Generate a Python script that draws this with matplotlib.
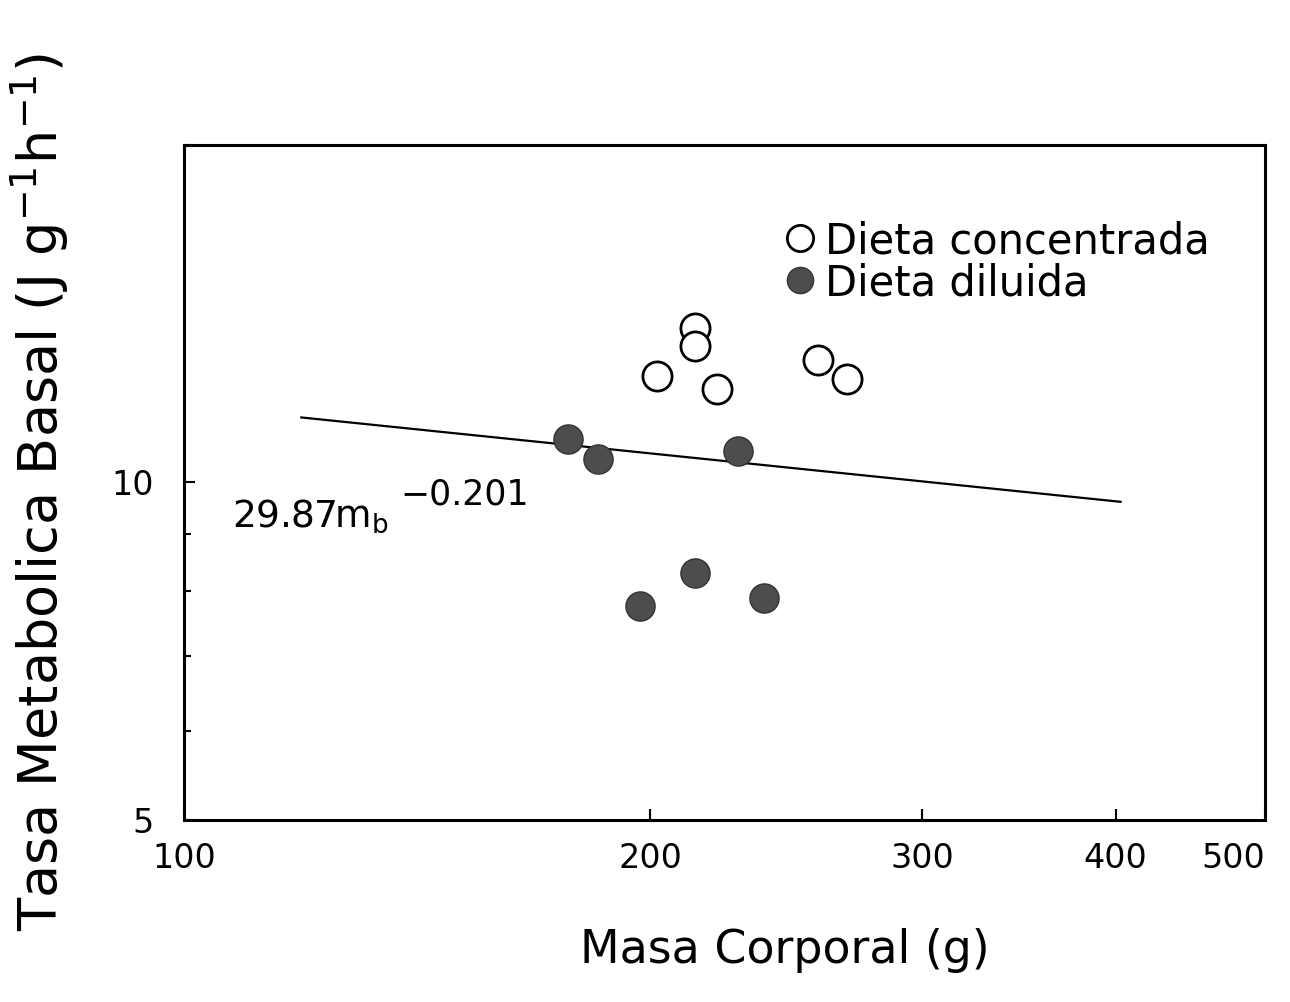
import matplotlib.pyplot as plt

# Dieta concentrada (circulos abiertos)
masa_conc = [202, 214, 214, 221, 257, 268]
tmb_conc = [12.45, 13.74, 13.23, 12.12, 12.85, 12.38]

# Dieta diluida (circulos llenos)
masa_dil = [177, 185, 197, 214, 228, 237]
tmb_dil = [10.93, 10.49, 7.76, 8.31, 10.66, 7.88]

# recta de regresion (extremos)
masa_fit = [119, 403]
tmb_fit = [11.43, 9.61]

xticks = [100, 200, 300, 400, 500]
yticks = [5, 10]
yminor = [6, 7, 8, 9, 20]

fig = plt.figure(figsize=(12.9, 10.02), dpi=100)
ax = fig.add_axes([0.143, 0.182, 0.838, 0.673])

ax.plot(masa_fit, tmb_fit, color='black', lw=1.6)
ax.plot(masa_conc, tmb_conc, 'o', ms=21, mfc='white', mec='black', mew=2,
        ls='none', label='Dieta concentrada')
ax.plot(masa_dil, tmb_dil, 'o', ms=21, mfc='#4d4d4d', mec='#333333', mew=1,
        ls='none', label='Dieta diluida')

ax.set_xscale('log')
ax.set_yscale('log')
ax.set_xlim(100, 500)
ax.set_ylim(5, 20)

ax.set_xticks(xticks)
ax.set_xticklabels([str(t) for t in xticks])
ax.set_xticks([], minor=True)
ax.set_yticks(yticks)
ax.set_yticklabels([str(t) for t in yticks])
ax.set_yticks(yminor, minor=True)
ax.set_yticklabels([], minor=True)
ax.tick_params(axis='both', which='both', direction='in', labelsize=24,
               top=False, right=False, width=1.5)
ax.tick_params(axis='both', which='major', length=8)
ax.tick_params(axis='y', which='minor', length=5)
ax.tick_params(axis='x', pad=16)
ax.tick_params(axis='y', pad=22)
ax.get_xticklabels()[-1].set_horizontalalignment('right')

for s in ax.spines.values():
    s.set_linewidth(2.2)

ax.set_xlabel('Masa Corporal (g)', fontsize=33)
ax.xaxis.set_label_coords(0.555, -0.16)
ax.set_ylabel('Tasa Metabolica Basal (J g$^{-1}$h$^{-1}$)', fontsize=39)
ax.yaxis.set_label_coords(-0.105, 0.485)

ax.text(0.044, 0.434, r'29.87m$_\mathregular{b}$', fontsize=27,
        transform=ax.transAxes, ha='left', va='baseline')
ax.text(0.2, 0.467, '\u22120.201', fontsize=25,
        transform=ax.transAxes, ha='left', va='baseline')

ax.legend(loc='upper left', bbox_to_anchor=(0.527, 0.92), frameon=False,
          fontsize=30, handletextpad=0.0, labelspacing=0.0, borderpad=0,
          markerscale=0.9, handlelength=1.2)

plt.savefig('out.png', dpi=100)
